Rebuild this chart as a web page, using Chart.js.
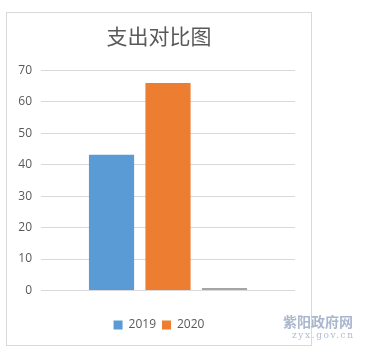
<!DOCTYPE html>
<html>
<head>
<meta charset="utf-8">
<script src="https://cdn.jsdelivr.net/npm/chart.js@4.4.1/dist/chart.umd.min.js"></script>
<style>
  html, body { margin: 0; padding: 0; background: #ffffff; width: 384px; height: 357px; overflow: hidden; }
  #frame { position: absolute; left: 6px; top: 12px; width: 306px; height: 334px; box-sizing: border-box; border: 1px solid #d9d9d9; }
  #wrap { position: absolute; left: 7px; top: 13px; width: 304px; height: 332px; }
  #wm1 { position: absolute; left: 283px; top: 313px; font-family: "Noto Sans CJK SC", sans-serif; font-weight: bold; font-size: 14px; line-height: 16px; color: rgba(140,158,190,0.75); letter-spacing: 0px; white-space: nowrap; }
  #wm2 { position: absolute; left: 292px; top: 330px; font-family: "DejaVu Serif", "Liberation Serif", serif; font-size: 9px; line-height: 10px; color: rgba(150,165,195,0.75); letter-spacing: 1.6px; white-space: nowrap; }
</style>
</head>
<body>
<div id="frame"></div>
<div id="wrap"><canvas id="c" width="304" height="332"></canvas></div>
<div id="wm1">紫阳政府网</div>
<div id="wm2">zyx.gov.cn</div>
<script>
const titleText = '支出对比图';
const categories = [''];
const seriesLabels = ['2019', '2020', '系列3'];
const values2019 = [43.1];
const values2020 = [65.9];
const values3 = [0.8];
const yTicks = [0, 10, 20, 30, 40, 50, 60, 70];
const colors = ['#5b9bd5', '#ed7d31', '#a5a5a5'];

const seriesValues = [values2019, values2020, values3];
const datasets = seriesLabels.map((lab, i) => ({
  label: lab,
  data: seriesValues[i],
  backgroundColor: colors[i],
  borderWidth: 0,
  categoryPercentage: 0.667,
  barPercentage: 0.8
}));

new Chart(document.getElementById('c'), {
  type: 'bar',
  data: { labels: categories, datasets: datasets },
  options: {
    responsive: false,
    animation: false,
    devicePixelRatio: 1,
    layout: { padding: { left: 0, right: 0, top: 0, bottom: 4 } },
    plugins: {
      title: {
        display: true,
        text: titleText,
        color: '#595959',
        font: { family: '"Noto Sans CJK SC", sans-serif', size: 21, weight: 'normal' },
        padding: { top: 10, bottom: 22 }
      },
      legend: {
        display: true,
        position: 'bottom',
        labels: {
          filter: (item) => item.datasetIndex < 2,
          boxWidth: 9,
          boxHeight: 9,
          padding: 6,
          color: '#595959',
          font: { family: '"Open Sans", "Liberation Sans", sans-serif', size: 12 }
        }
      },
      tooltip: { enabled: false }
    },
    scales: {
      x: {
        ticks: { display: false },
        grid: { display: false },
        border: { display: false },
        afterFit: (s) => { s.height = 22.5; }
      },
      y: {
        min: 0,
        max: 70,
        afterBuildTicks: (s) => { s.ticks = yTicks.map(v => ({ value: v })); },
        ticks: {
          color: '#595959',
          padding: 9,
          font: { family: '"Open Sans", "Liberation Sans", sans-serif', size: 12 }
        },
        grid: { color: '#d9d9d9', drawTicks: false, lineWidth: 1 },
        border: { display: false },
        afterFit: (s) => { s.width = 34; }
      },
      yRight: {
        position: 'right',
        min: 0,
        max: 70,
        ticks: { display: false },
        grid: { display: false, drawTicks: false },
        border: { display: false },
        afterFit: (s) => { s.width = 16; }
      }
    }
  }
});
</script>
</body>
</html>
